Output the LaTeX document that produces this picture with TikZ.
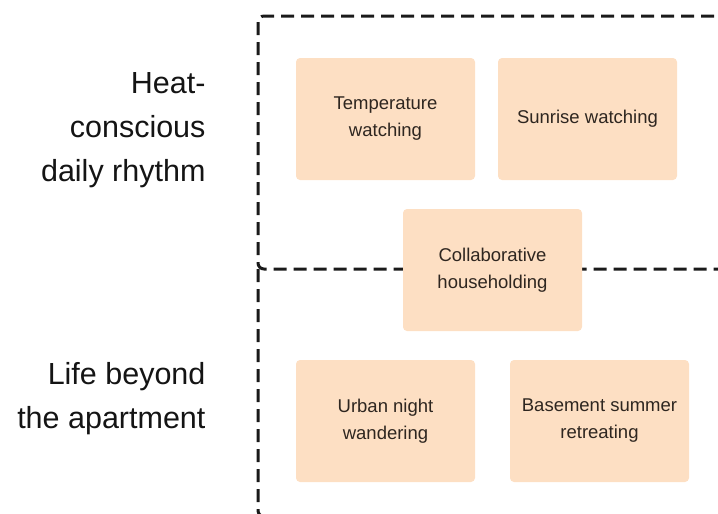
\documentclass[tikz,border=0pt]{standalone}
\usepackage{fontspec}
\setmainfont{Liberation Sans}
\usepackage{xcolor}
\usetikzlibrary{positioning}

\definecolor{peach}{HTML}{FDDFC3}
\definecolor{inktext}{HTML}{2E2620}
\definecolor{framegray}{HTML}{1A1A1A}

\begin{document}
\begin{tikzpicture}[
    x=1pt, y=-1pt,
    card/.style={rectangle, rounded corners=4pt, fill=peach, text=inktext,
                 minimum width=179pt, minimum height=122pt, align=center,
                 font=\fontsize{18.5}{27}\selectfont},
    lanetitle/.style={anchor=east, align=right, text=black!92,
                 font=\fontsize{30.5}{44}\selectfont},
    laneline/.style={draw=framegray, line width=3pt, dash pattern=on 13pt off 7pt}
]
\useasboundingbox (0,0) rectangle (718,514);
\clip (0,0) rectangle (718,514);

% Lane frames
\draw[laneline, rounded corners=6pt] (258,16) rectangle (780,269);
\coordinate (lowtop) at (258,269);
\coordinate (lowcorner) at (258,516.5);
\coordinate (lowend) at (780,516.5);
\draw[laneline, rounded corners=6pt] (lowtop) -- (lowcorner) -- (lowend);

% Lane titles
\node[lanetitle] (heat) at (209,130) {Heat-\\conscious\hspace{7pt}\\daily rhythm};
\node[lanetitle] (life) at (209,399) {Life beyond\hspace{7pt}\\the apartment};

% Upper lane
\node[card] (temp) at (385.5,119) {Temperature\\watching};
\node[card] (sunrise) at (587.5,119) {Sunrise watching};

% Shared
\node[card] (collab) at (492.5,270) {Collaborative\\householding};

% Lower lane
\node[card] (urban) at (385.5,421) {Urban night\\wandering};
\node[card] (basement) at (599.5,421) {Basement summer\\retreating};

\end{tikzpicture}
\end{document}
